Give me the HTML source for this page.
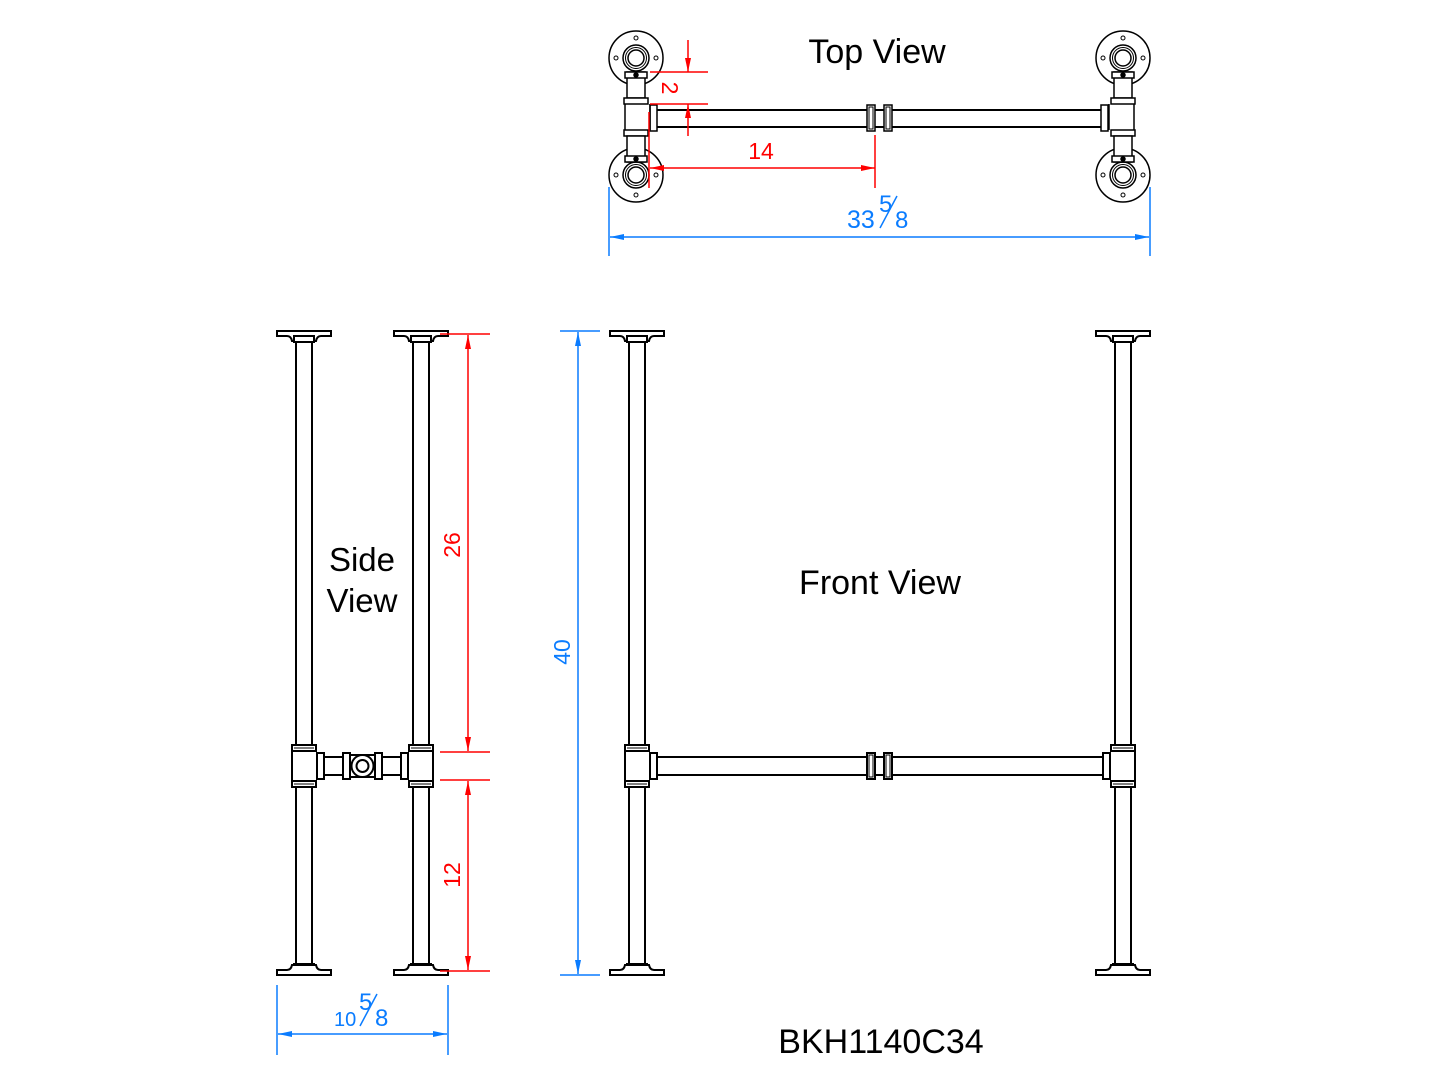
<!DOCTYPE html>
<html><head><meta charset="utf-8"><style>
html,body{margin:0;padding:0;background:#fff}
svg{display:block}
text{font-family:"Liberation Sans",sans-serif}
</style></head><body>
<svg width="1445" height="1084" viewBox="0 0 1445 1084" xmlns="http://www.w3.org/2000/svg">
<defs>
<g id="leg" fill="#fff" stroke="#000" stroke-width="2">
  <path d="M-27,331 H27 V336 H17 Q13,336 12,341 H-12 Q-13,336 -17,336 H-27 Z"/>
  <rect x="-10" y="336" width="20" height="6"/>
  <line x1="-8" y1="342" x2="-8" y2="745"/><line x1="8" y1="342" x2="8" y2="745"/>
  <rect x="-12" y="745" width="24" height="6"/><line x1="-10" y1="748" x2="10" y2="748" stroke-width="1"/>
  <rect x="-12" y="781" width="24" height="6"/><line x1="-10" y1="784" x2="10" y2="784" stroke-width="1"/>
  <line x1="-8" y1="787" x2="-8" y2="964"/><line x1="8" y1="787" x2="8" y2="964"/>
  <rect x="-10" y="964" width="20" height="6"/>
  <path d="M-27,975 H27 V970 H17 Q13,970 12,965 H-12 Q-13,970 -17,970 H-27 Z"/>
</g>
<g id="flange" fill="#fff" stroke="#000">
  <circle r="27" stroke-width="1.5"/>
  <circle r="13" stroke-width="1.5"/><circle r="10.5" stroke-width="1"/><circle r="8" stroke-width="1.5"/>
  <circle cx="-20" r="2" stroke-width="1"/><circle cx="20" r="2" stroke-width="1"/>
  <circle cy="-20" r="2" stroke-width="1"/><circle cy="20" r="2" stroke-width="1"/>
</g>
<g id="topcol" fill="#fff" stroke="#000" stroke-width="1.5">
  <rect x="-9" y="72" width="18" height="26"/>
  <rect x="-11" y="72" width="22" height="6"/>
  <circle cx="0" cy="75" r="2" fill="#000"/>
  <rect x="-12" y="98" width="24" height="6"/>
  <rect x="-12" y="130" width="24" height="6"/>
  <rect x="-9" y="136" width="18" height="26"/>
  <rect x="-11" y="156" width="22" height="6"/>
  <circle cx="0" cy="159" r="2" fill="#000"/>
</g>
<marker id="arR" markerWidth="14" markerHeight="6" refX="14" refY="3" orient="auto-start-reverse" markerUnits="userSpaceOnUse"><path d="M0,0 L14,3 L0,6 Z" fill="#f00"/></marker>
<marker id="arB" markerWidth="14" markerHeight="6" refX="14" refY="3" orient="auto-start-reverse" markerUnits="userSpaceOnUse"><path d="M0,0 L14,3 L0,6 Z" fill="#0a7cff"/></marker>
</defs>

<!-- Top view -->
<g>
  <line x1="650" y1="110" x2="1108" y2="110" stroke="#000" stroke-width="2"/>
  <line x1="650" y1="127" x2="1108" y2="127" stroke="#000" stroke-width="2"/>
  <g fill="#fff" stroke="#000" stroke-width="1.5">
    <rect x="867" y="105" width="8" height="26"/><rect x="869" y="107" width="4" height="22" stroke-width="1"/>
    <rect x="884" y="105" width="8" height="26"/><rect x="886" y="107" width="4" height="22" stroke-width="1"/>
    <rect x="650" y="105" width="7" height="26"/>
    <rect x="1101" y="105" width="7" height="26"/>
  </g>
  <use href="#flange" x="636" y="58"/><use href="#flange" x="636" y="175"/>
  <use href="#flange" x="1123" y="58"/><use href="#flange" x="1123" y="175"/>
  <use href="#topcol" x="636"/><use href="#topcol" x="1123"/>
  <g fill="none" stroke="#000" stroke-width="1.5">
    <line x1="625" y1="104" x2="625" y2="130"/><line x1="650" y1="104" x2="650" y2="130"/>
    <line x1="1109" y1="104" x2="1109" y2="130"/><line x1="1134" y1="104" x2="1134" y2="130"/>
  </g>
</g>
<text x="877" y="63" font-size="34" text-anchor="middle">Top View</text>

<!-- Top view dims -->
<g stroke="#f00" stroke-width="1.5" fill="none">
  <line x1="650" y1="72" x2="708" y2="72"/><line x1="650" y1="104" x2="708" y2="104"/>
  <line x1="688" y1="40" x2="688" y2="72" marker-end="url(#arR)"/>
  <line x1="688" y1="136" x2="688" y2="104" marker-end="url(#arR)"/>
  <line x1="649" y1="112" x2="649" y2="188"/><line x1="875" y1="135" x2="875" y2="188"/>
  <line x1="650" y1="168" x2="875" y2="168" marker-start="url(#arR)" marker-end="url(#arR)"/>
</g>
<text x="0" y="0" font-size="23" fill="#f00" text-anchor="middle" transform="translate(662,88) rotate(90)">2</text>
<text x="761" y="159" font-size="23" fill="#f00" text-anchor="middle">14</text>
<g stroke="#0a7cff" stroke-width="1.5" fill="none">
  <line x1="609" y1="187" x2="609" y2="256"/><line x1="1150" y1="187" x2="1150" y2="256"/>
  <line x1="610" y1="237" x2="1149" y2="237" marker-start="url(#arB)" marker-end="url(#arB)"/>
</g>
<text x="847" y="228" font-size="25" fill="#0a7cff">33</text>
<text x="879" y="212" font-size="24" fill="#0a7cff">5</text>
<line x1="880" y1="228" x2="897" y2="196" stroke="#0a7cff" stroke-width="1.5"/>
<text x="895" y="228" font-size="24" fill="#0a7cff">8</text>

<!-- Side view -->
<use href="#leg" x="304"/><use href="#leg" x="421"/>
<g fill="#fff" stroke="#000" stroke-width="2">
  <line x1="292" y1="751" x2="292" y2="781"/><line x1="433" y1="751" x2="433" y2="781"/>
  <line x1="323" y1="757" x2="402" y2="757"/><line x1="323" y1="775" x2="402" y2="775"/>
  <rect x="317" y="753" width="7" height="26"/>
  <rect x="401" y="753" width="7" height="26"/>
  <rect x="343" y="753" width="7" height="26"/>
  <rect x="375" y="753" width="7" height="26"/>
  <rect x="350" y="755" width="25" height="22"/>
  <circle cx="362.5" cy="766" r="11"/>
  <circle cx="362.5" cy="766" r="6"/>
</g>
<text x="362" y="571" font-size="33" text-anchor="middle">Side</text>
<text x="362" y="612" font-size="33" text-anchor="middle">View</text>

<!-- Side dims -->
<g stroke="#f00" stroke-width="1.5" fill="none">
  <line x1="440" y1="334" x2="490" y2="334"/>
  <line x1="440" y1="752" x2="490" y2="752"/>
  <line x1="440" y1="780" x2="490" y2="780"/>
  <line x1="440" y1="971" x2="490" y2="971"/>
  <line x1="468" y1="335" x2="468" y2="751" marker-start="url(#arR)" marker-end="url(#arR)"/>
  <line x1="468" y1="781" x2="468" y2="970" marker-start="url(#arR)" marker-end="url(#arR)"/>
</g>
<text font-size="23" fill="#f00" text-anchor="middle" transform="translate(460,545) rotate(-90)">26</text>
<text font-size="23" fill="#f00" text-anchor="middle" transform="translate(460,875) rotate(-90)">12</text>
<g stroke="#0a7cff" stroke-width="1.5" fill="none">
  <line x1="277" y1="985" x2="277" y2="1055"/><line x1="448" y1="985" x2="448" y2="1055"/>
  <line x1="278" y1="1034" x2="447" y2="1034" marker-start="url(#arB)" marker-end="url(#arB)"/>
</g>
<text x="334" y="1026" font-size="20" fill="#0a7cff">10</text>
<text x="359" y="1010" font-size="24" fill="#0a7cff">5</text>
<line x1="360" y1="1026" x2="377" y2="994" stroke="#0a7cff" stroke-width="1.5"/>
<text x="375" y="1026" font-size="24" fill="#0a7cff">8</text>

<!-- 40 dim -->
<g stroke="#0a7cff" stroke-width="1.5" fill="none">
  <line x1="560" y1="331" x2="600" y2="331"/><line x1="560" y1="975" x2="600" y2="975"/>
  <line x1="578" y1="332" x2="578" y2="974" marker-start="url(#arB)" marker-end="url(#arB)"/>
</g>
<text font-size="23" fill="#0a7cff" text-anchor="middle" transform="translate(570,652) rotate(-90)">40</text>

<!-- Front view -->
<use href="#leg" x="637"/><use href="#leg" x="1123"/>
<g fill="#fff" stroke="#000" stroke-width="2">
  <line x1="625" y1="751" x2="625" y2="781"/><line x1="1135" y1="751" x2="1135" y2="781"/>
  <line x1="656" y1="757" x2="1104" y2="757"/><line x1="656" y1="775" x2="1104" y2="775"/>
  <rect x="650" y="753" width="7" height="26"/>
  <rect x="1103" y="753" width="7" height="26"/>
  <rect x="867" y="753" width="8" height="26"/><rect x="869" y="755" width="4" height="22" stroke-width="1"/>
  <rect x="884" y="753" width="8" height="26"/><rect x="886" y="755" width="4" height="22" stroke-width="1"/>
  <line x1="875" y1="757" x2="884" y2="757"/><line x1="875" y1="775" x2="884" y2="775"/>
</g>
<text x="880" y="594" font-size="34" text-anchor="middle">Front View</text>
<text x="881" y="1053" font-size="34" text-anchor="middle">BKH1140C34</text>
</svg>
</body></html>
